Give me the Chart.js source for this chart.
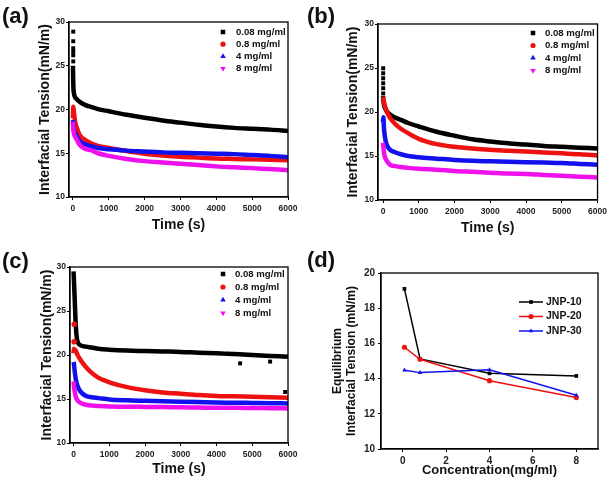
<!DOCTYPE html>
<html>
<head>
<meta charset="utf-8">
<script src="https://cdn.jsdelivr.net/npm/chart.js@4.4.1/dist/chart.umd.min.js"></script>
<style>
  body { margin: 0; background: #fff; width: 611px; height: 485px; overflow: hidden; }
  .panel { position: absolute; }
  .tag { position: absolute; font: bold 22px "Liberation Sans", Arial, sans-serif; line-height: 1; color: #111; }
</style>
</head>
<body>
<div class="panel" style="left:0;top:0"><canvas id="chartA" width="305" height="240"></canvas></div>
<div class="panel" style="left:305px;top:0"><canvas id="chartB" width="306" height="240"></canvas></div>
<div class="panel" style="left:0;top:240px"><canvas id="chartC" width="305" height="245"></canvas></div>
<div class="panel" style="left:305px;top:240px"><canvas id="chartD" width="306" height="245"></canvas></div>
<div class="tag" style="left:2px;top:5px">(a)</div>
<div class="tag" style="left:307px;top:5px">(b)</div>
<div class="tag" style="left:2px;top:250px">(c)</div>
<div class="tag" style="left:307px;top:249px">(d)</div>
<script>
// concentrations for panels a-c
const seriesLabels = ['0.08 mg/ml', '0.8 mg/ml', '4 mg/ml', '8 mg/ml'];
const timeTicks = [0, 1000, 2000, 3000, 4000, 5000, 6000];
// sampled times (s) for the dynamic tension curves
const times = [0, 10, 30, 60, 100, 200, 350, 500, 700, 1000, 1500, 2000, 2500, 3000, 3500, 4000, 4500, 5000, 5500, 6000];

// panel (a)
const a008 = [25.0, 22.8, 21.8, 21.4, 21.2, 20.85, 20.5, 20.3, 20.05, 19.8, 19.4, 19.05, 18.75, 18.5, 18.25, 18.05, 17.9, 17.8, 17.7, 17.55];
const a08 = [19.0, 20.3, 19.6, 18.6, 18.0, 17.0, 16.5, 16.15, 15.85, 15.6, 15.25, 14.95, 14.75, 14.6, 14.5, 14.4, 14.35, 14.3, 14.25, 14.2];
const a4 = [18.8, 18.2, 17.6, 17.3, 17.0, 16.3, 16.0, 15.8, 15.6, 15.45, 15.3, 15.2, 15.1, 15.05, 15.0, 14.95, 14.9, 14.8, 14.7, 14.55];
const a8 = [18.6, 17.8, 17.2, 16.9, 16.6, 15.9, 15.5, 15.35, 15.0, 14.7, 14.35, 14.1, 13.95, 13.8, 13.65, 13.5, 13.4, 13.3, 13.2, 13.05];
const aStartX = [8, 8, 8, 8, 8, 8];
const aStartY = [28.9, 27.8, 27.0, 26.6, 26.2, 25.5];

// panel (b)
const b008 = [21.8, 21.3, 20.8, 20.4, 20.1, 19.7, 19.35, 19.1, 18.75, 18.35, 17.75, 17.3, 16.9, 16.65, 16.45, 16.3, 16.15, 16.05, 15.95, 15.85];
const b08 = [21.7, 21.5, 21.1, 20.6, 20.1, 19.3, 18.6, 18.1, 17.6, 16.95, 16.35, 16.05, 15.85, 15.7, 15.6, 15.5, 15.4, 15.3, 15.2, 15.05];
const b4 = [18.8, 19.4, 18.0, 17.0, 16.3, 15.7, 15.4, 15.2, 15.0, 14.85, 14.7, 14.55, 14.45, 14.4, 14.35, 14.3, 14.25, 14.2, 14.1, 14.0];
const b8 = [16.5, 16.0, 15.3, 14.8, 14.5, 14.0, 13.85, 13.75, 13.65, 13.55, 13.45, 13.3, 13.2, 13.1, 13.0, 12.95, 12.85, 12.75, 12.65, 12.55];
const bStartX = [5, 5, 5, 5, 5, 5];
const bStartY = [24.97, 24.4, 23.83, 23.26, 22.7, 22.1];

// panel (c)
const c008 = [29.5, 28.5, 26.5, 23.5, 21.7, 21.1, 20.95, 20.85, 20.7, 20.6, 20.5, 20.45, 20.4, 20.35, 20.25, 20.2, 20.1, 20.0, 19.9, 19.8];
const c08 = [20.2, 20.7, 20.6, 20.5, 20.1, 19.4, 18.6, 18.0, 17.4, 16.9, 16.35, 16.0, 15.75, 15.6, 15.45, 15.35, 15.3, 15.25, 15.2, 15.15];
const c4 = [19.2, 19.0, 18.2, 17.3, 16.6, 15.8, 15.35, 15.2, 15.1, 14.95, 14.85, 14.8, 14.75, 14.7, 14.65, 14.6, 14.58, 14.55, 14.52, 14.5];
const c8 = [17.0, 16.5, 15.9, 15.3, 14.9, 14.55, 14.35, 14.25, 14.2, 14.15, 14.12, 14.1, 14.08, 14.05, 14.03, 14.0, 14.0, 13.98, 13.95, 13.93];
const cBlackOutX = [4660, 5500, 5920];
const cBlackOutY = [19.05, 19.25, 15.8];
const cRedOutX = [15, 20];
const cRedOutY = [21.5, 23.5];

// panel (d)
const concentrations = [0.08, 0.8, 4, 8];
const concTicks = [0, 2, 4, 6, 8];
const jnp10 = [19.1, 15.12, 14.3, 14.15];
const jnp20 = [15.78, 15.1, 13.88, 12.92];
const jnp30 = [14.48, 14.34, 14.5, 13.05];
const eqLabels = ['JNP-10', 'JNP-20', 'JNP-30'];

const colors = ['#000000', '#ee1111', '#1111ee', '#ee11ee'];
const styles = [
  {pointStyle: 'rect', radius: 3.2, rotation: 0},
  {pointStyle: 'circle', radius: 2.6, rotation: 0},
  {pointStyle: 'triangle', radius: 3.2, rotation: 0},
  {pointStyle: 'triangle', radius: 3.2, rotation: 180}
];
const FONT = '"Liberation Sans", Arial, sans-serif';

function pts(xs, ys) {
  return xs.map((x, i) => ({x: x, y: ys[i]}));
}

// frame round the plot area
const framePlugin = {
  id: 'frame',
  afterDraw(chart) {
    const a = chart.chartArea, ctx = chart.ctx;
    ctx.save();
    ctx.strokeStyle = '#000';
    ctx.lineWidth = 1.3;
    ctx.strokeRect(a.left, a.top, a.right - a.left, a.bottom - a.top);
    ctx.restore();
  }
};

// legend drawn inside the plot area, top right
const insideLegend = {
  id: 'insideLegend',
  afterDraw(chart, args, opts) {
    const ctx = chart.ctx;
    ctx.save();
    ctx.font = 'bold ' + opts.size + 'px ' + FONT;
    ctx.textBaseline = 'middle';
    ctx.textAlign = 'left';
    let i = 0;
    chart.data.datasets.forEach(ds => {
      if (!ds.label) return;
      const y = opts.y + i * opts.gap;
      ctx.strokeStyle = ds.borderColor;
      ctx.fillStyle = ds.borderColor;
      if (opts.line) {
        ctx.lineWidth = 1.5;
        ctx.beginPath();
        ctx.moveTo(opts.x - 12, y);
        ctx.lineTo(opts.x + 12, y);
        ctx.stroke();
      }
      Chart.helpers.drawPoint(ctx, {pointStyle: ds.legendStyle.pointStyle, radius: ds.legendStyle.radius, rotation: ds.legendStyle.rotation, borderWidth: 0}, opts.x, y);
      ctx.fillStyle = '#111';
      ctx.fillText(ds.label, opts.textX, y);
      i++;
    });
    ctx.restore();
  }
};

function timeChart(id, box, curves, extras, xMin, legend) {
  const datasets = curves.map((ys, k) => ({
    label: seriesLabels[k],
    data: pts(times, ys),
    borderColor: colors[k],
    backgroundColor: colors[k],
    borderWidth: 4.5,
    pointRadius: 0,
    cubicInterpolationMode: 'monotone',
    legendStyle: styles[k],
    order: 10 - k
  }));
  extras.forEach(e => datasets.push({
    label: '',
    data: pts(e.x, e.y),
    showLine: false,
    borderColor: colors[e.k],
    backgroundColor: colors[e.k],
    pointStyle: styles[e.k].pointStyle,
    pointRadius: 2.8,
    pointBorderWidth: 0,
    order: 10 - e.k
  }));
  return new Chart(document.getElementById(id), {
    type: 'line',
    data: {datasets: datasets},
    plugins: [framePlugin, insideLegend],
    options: {
      responsive: false,
      animation: false,
      events: [],
      layout: {padding: {left: 0, top: box.T, right: box.W - box.R, bottom: 0}},
      plugins: {legend: {display: false}, tooltip: {enabled: false}, insideLegend: legend},
      scales: {
        x: {
          type: 'linear', min: xMin, max: 6000,
          afterBuildTicks: s => { s.ticks = timeTicks.map(v => ({value: v})); },
          afterFit: s => { s.height = box.H - box.B; },
          grid: {display: true, drawOnChartArea: false, tickLength: 3, tickColor: '#000'},
          border: {display: true, color: '#000', width: 1.3},
          ticks: {color: '#222', padding: 4, maxRotation: 0, callback: v => String(v),
            font: {family: FONT, size: 8.5, weight: 'bold'}},
          title: {display: true, text: 'Time (s)', color: '#111', padding: {top: 0, bottom: box.xt},
            font: {family: FONT, size: 14, weight: 'bold', lineHeight: 1.2}}
        },
        y: {
          min: 10, max: 30,
          ticks: {stepSize: 5, color: '#222', padding: 1, font: {family: FONT, size: 8.5, weight: 'bold'}},
          afterFit: s => { s.width = box.L; },
          grid: {display: true, drawOnChartArea: false, tickLength: 3, tickColor: '#000'},
          border: {display: true, color: '#000', width: 1.3},
          title: {display: true, text: 'Interfacial Tension(mN/m)', color: '#111', padding: {top: box.yt, bottom: 0},
            font: {family: FONT, size: 14, weight: 'bold', lineHeight: 1.2}}
        }
      }
    }
  });
}

timeChart('chartA', {W: 305, H: 240, L: 69, R: 288, T: 22, B: 197, yt: 36.6, xt: 6.6},
  [a008, a08, a4, a8], [{k: 0, x: aStartX, y: aStartY}], -110,
  {x: 223, textX: 236, y: 32, gap: 12.2, size: 9.6});

timeChart('chartB', {W: 306, H: 240, L: 73, R: 293, T: 24, B: 200, yt: 39.6, xt: 3.6},
  [b008, b08, b4, b8], [{k: 0, x: bStartX, y: bStartY}], -140,
  {x: 228, textX: 240, y: 33, gap: 12.5, size: 9.6});

timeChart('chartC', {W: 305, H: 245, L: 70, R: 288, T: 27, B: 203, yt: 38.6, xt: 7.6},
  [c008, c08, c4, c8], [{k: 0, x: cBlackOutX, y: cBlackOutY}, {k: 1, x: cRedOutX, y: cRedOutY}], -100,
  {x: 223, textX: 235, y: 34, gap: 13, size: 9.6});

// panel (d): equilibrium tension vs concentration
const boxD = {W: 306, H: 245, L: 76, R: 293, T: 33, B: 209};
new Chart(document.getElementById('chartD'), {
  type: 'line',
  data: {
    datasets: [jnp10, jnp20, jnp30].map((ys, k) => ({
      label: eqLabels[k],
      data: pts(concentrations, ys),
      borderColor: colors[k],
      backgroundColor: colors[k],
      pointBackgroundColor: colors[k],
      borderWidth: 1.5,
      pointStyle: styles[k].pointStyle,
      pointRadius: 2.6,
      pointBorderWidth: 0,
      legendStyle: {pointStyle: styles[k].pointStyle, radius: 2.6, rotation: 0},
      order: 10 - k
    }))
  },
  plugins: [framePlugin, insideLegend],
  options: {
    responsive: false,
    animation: false,
    events: [],
    layout: {padding: {left: 0, top: boxD.T, right: boxD.W - boxD.R, bottom: 0}},
    plugins: {legend: {display: false}, tooltip: {enabled: false},
      insideLegend: {x: 226, textX: 241, y: 62, gap: 14.5, size: 10.5, line: true}},
    scales: {
      x: {
        type: 'linear', min: -1, max: 9,
        afterBuildTicks: s => { s.ticks = concTicks.map(v => ({value: v})); },
        afterFit: s => { s.height = boxD.H - boxD.B; },
        grid: {display: true, drawOnChartArea: false, tickLength: 3, tickColor: '#000'},
        border: {display: true, color: '#000', width: 1.3},
        ticks: {color: '#222', padding: 3, maxRotation: 0, font: {family: FONT, size: 10, weight: 'bold'}},
        title: {display: true, text: 'Concentration(mg/ml)', color: '#111', padding: {top: 0, bottom: 7.2},
          font: {family: FONT, size: 13, weight: 'bold', lineHeight: 1.2}}
      },
      y: {
        min: 10, max: 20,
        ticks: {stepSize: 2, color: '#222', padding: 3, font: {family: FONT, size: 10, weight: 'bold'}},
        afterFit: s => { s.width = boxD.L; },
        grid: {display: true, drawOnChartArea: false, tickLength: 3, tickColor: '#000'},
        border: {display: true, color: '#000', width: 1.3},
        title: {display: true, text: ['Equilibrium', 'Interfacial Tension (mN/m)'], color: '#111', padding: {top: 26.4, bottom: 0},
          font: {family: FONT, size: 12, weight: 'bold', lineHeight: 1.1}}
      }
    }
  }
});
</script>
</body>
</html>
